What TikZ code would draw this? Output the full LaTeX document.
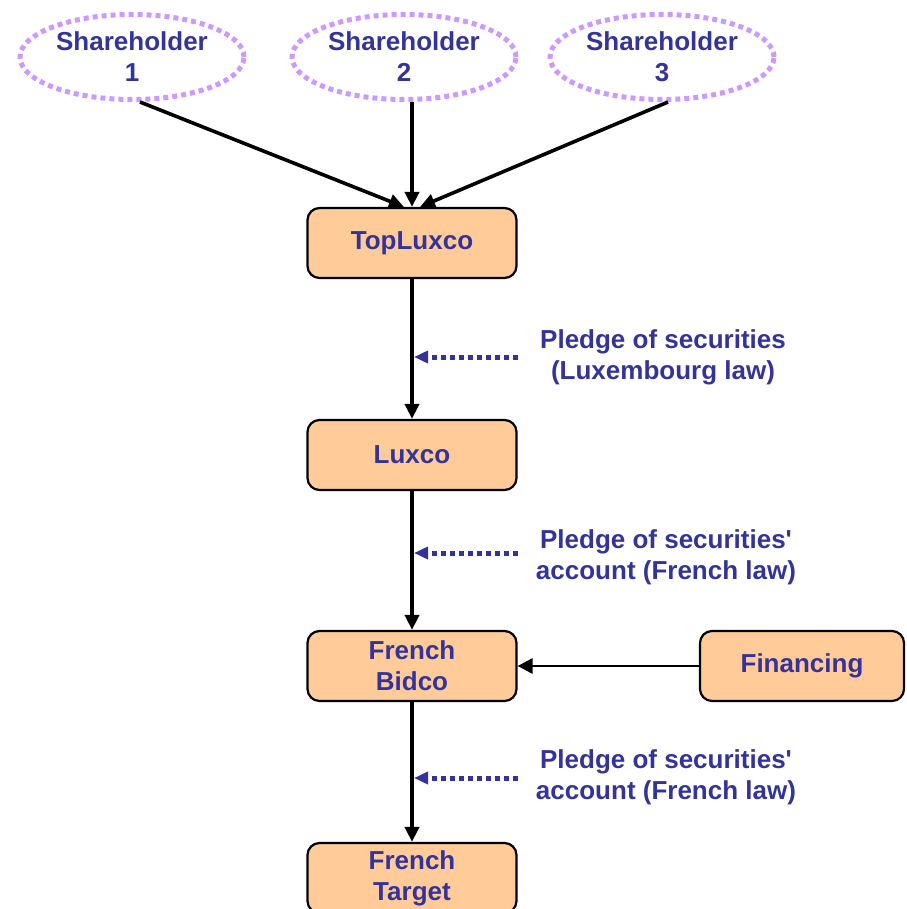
\documentclass[tikz,border=0pt]{standalone}
\usepackage{fontspec}
\setmainfont{Liberation Sans}
\usetikzlibrary{shapes.geometric,arrows.meta}
\definecolor{txtblue}{HTML}{333399}
\definecolor{boxfill}{HTML}{FFCC99}
\definecolor{lilac}{HTML}{CC99FF}
\begin{document}
\begin{tikzpicture}[x=1pt,y=-1pt,
  lbl/.style={text=txtblue,font=\bfseries\fontsize{26}{31}\selectfont,align=center},
  entity/.style={lbl,draw=black,line width=2.2pt,fill=boxfill,rounded corners=12pt,
    minimum width=209pt,minimum height=70pt,inner sep=0pt},
  holder/.style={lbl,ellipse,draw=lilac,line width=5pt,dash pattern=on 5pt off 4pt,
    minimum width=224pt,minimum height=85pt,inner sep=0pt},
  own/.style={draw=black,line width=3.6pt,-{Triangle[length=15pt,width=14pt]}},
  fin/.style={draw=black,line width=2.8pt,-{Triangle[length=15pt,width=15pt]}},
  pledge/.style={draw=txtblue,line width=5pt,dash pattern=on 5pt off 4pt,
    -{Triangle[length=14pt,width=12pt]}}]
\useasboundingbox (0,0) rectangle (906,909);

% shareholders
\node[holder] (s1) at (132,57) {Shareholder\\1};
\node[holder] (s2) at (404,57) {Shareholder\\2};
\node[holder] (s3) at (662,57) {Shareholder\\3};

% entities
\node[entity] (top) at (412,243) {TopLuxco};
\node[entity] (lux) at (412,455) {Luxco};
\node[entity] (bid) at (412,666) {French\\Bidco};
\node[entity,minimum width=204pt] (fin) at (802,666) {Financing};
\node[entity] (tgt) at (412,878) {French\\Target};

% ownership arrows
\draw[own] ([xshift=8pt]s1.south) -- ([xshift=-8pt]top.north);
\draw[own] (s2.south -| top.north) -- (top.north);
\draw[own] ([xshift=6pt]s3.south) -- ([xshift=8pt]top.north);
\draw[own] (top.south) -- (lux.north);
\draw[own] (lux.south) -- (bid.north);
\draw[own] (bid.south) -- (tgt.north);
\draw[fin] (fin.west) -- (bid.east);

% pledges
\node[lbl] (l1) at (663,357) {Pledge of securities\\(Luxembourg law)};
\node[lbl] (l2) at (666,557) {Pledge of securities\textquotesingle\\account (French law)};
\node[lbl] (l3) at (666,777) {Pledge of securities\textquotesingle\\account (French law)};
\coordinate (a1) at (518,357); \coordinate (t1) at (414,357);
\coordinate (a2) at (518,553); \coordinate (t2) at (414,553);
\coordinate (a3) at (518,778); \coordinate (t3) at (414,778);
\draw[pledge] (a1) -- (t1);
\draw[pledge] (a2) -- (t2);
\draw[pledge] (a3) -- (t3);
\end{tikzpicture}
\end{document}
